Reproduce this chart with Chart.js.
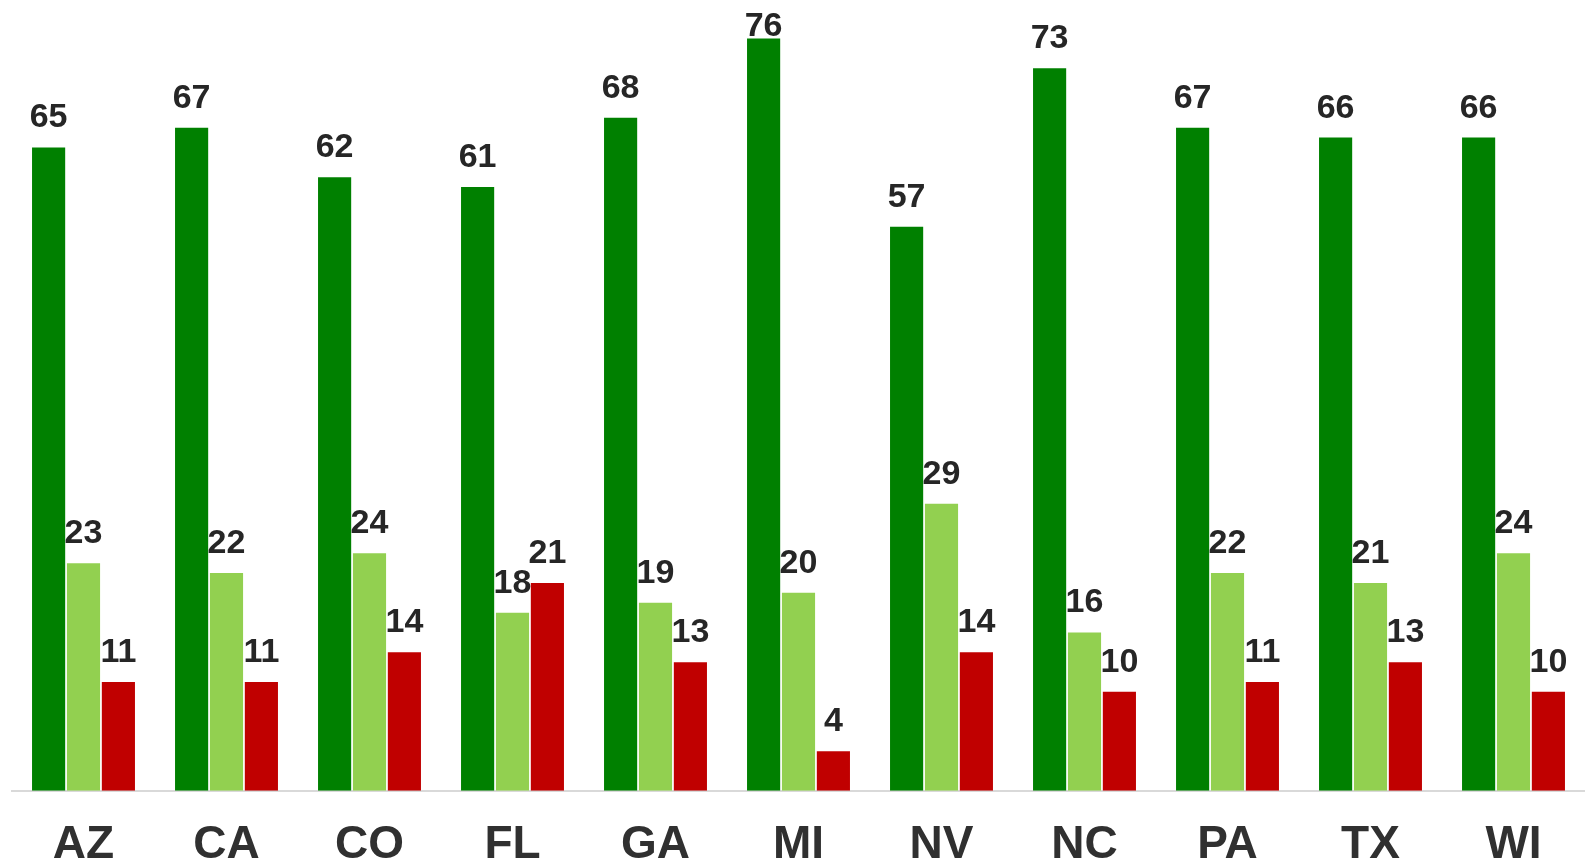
<!DOCTYPE html>
<html lang="en">
<head>
    <meta charset="UTF-8">
    <title>States chart</title>
    <script src="https://cdn.jsdelivr.net/npm/chart.js"></script>
    <style>
        html, body { margin: 0; padding: 0; background: #fff; overflow: hidden; }
        #wrap { width: 1585px; height: 900px; }
    </style>
</head>
<body>
    <div id="wrap"><canvas id="barChart" width="1585" height="900"></canvas></div>

    <script>
        // data
        const states = ['AZ', 'CA', 'CO', 'FL', 'GA', 'MI', 'NV', 'NC', 'PA', 'TX', 'WI'];
        const darkValues = [65, 67, 62, 61, 68, 76, 57, 73, 67, 66, 66];
        const lightValues = [23, 22, 24, 18, 19, 20, 29, 16, 22, 21, 24];
        const redValues = [11, 11, 14, 21, 13, 4, 14, 10, 11, 13, 10];

        // value labels on top of each bar (kept inside the top edge)
        const barLabels = {
            id: 'barLabels',
            afterDatasetsDraw(chart) {
                const ctx = chart.ctx;
                ctx.save();
                ctx.font = 'bold 34px "Liberation Sans", Arial, sans-serif';
                ctx.fillStyle = '#262626';
                ctx.textAlign = 'center';
                ctx.textBaseline = 'alphabetic';
                chart.data.datasets.forEach((ds, i) => {
                    chart.getDatasetMeta(i).data.forEach((bar, j) => {
                        ctx.fillText(ds.data[j], bar.x, Math.max(bar.y - 20, 36));
                    });
                });
                ctx.restore();
            }
        };

        new Chart(document.getElementById('barChart'), {
            type: 'bar',
            data: {
                labels: states,
                datasets: [
                    { data: darkValues, backgroundColor: '#008000' },
                    { data: lightValues, backgroundColor: '#92d050' },
                    { data: redValues, backgroundColor: '#c00000' }
                ]
            },
            options: {
                responsive: false,
                animation: false,
                layout: { padding: { left: 12, right: 0, top: 0, bottom: 0 } },
                datasets: {
                    bar: { categoryPercentage: 0.732, barPercentage: 0.95, borderWidth: 0 }
                },
                plugins: {
                    legend: { display: false },
                    tooltip: { enabled: false }
                },
                scales: {
                    y: { display: false, min: 0, max: 79.9 },
                    x: {
                        grid: { display: false, drawTicks: false },
                        border: { display: true, color: '#d9d9d9', width: 2 },
                        ticks: {
                            padding: 27,
                            color: '#303030',
                            font: { family: '"Liberation Sans", Arial, sans-serif', size: 46, weight: 'bold' }
                        }
                    }
                }
            },
            plugins: [barLabels]
        });
    </script>
</body>
</html>
